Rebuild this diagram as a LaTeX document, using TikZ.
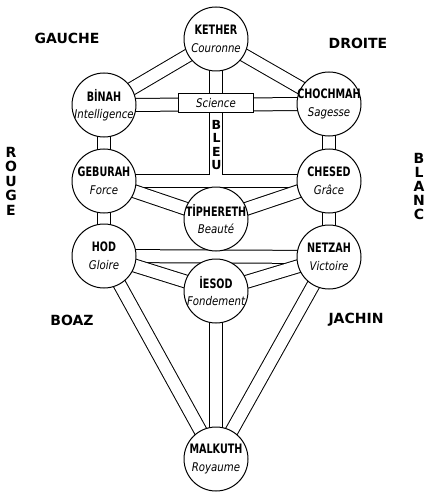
\documentclass[tikz,border=0pt]{standalone}
\usepackage{fontspec}
\usepackage{graphicx}
\usetikzlibrary{backgrounds}
\newfontfamily\lettrage{DejaVu Sans}
% noms des sefirot et vertus
\newcommand{\nom}[1]{\makebox[0pt]{\scalebox{0.74}[1]{\fontsize{13}{13}\selectfont\lettrage\bfseries #1}}}
\newcommand{\vertu}[1]{\makebox[0pt]{\scalebox{0.85}[1]{\fontsize{12}{12}\selectfont\lettrage\itshape #1}}}

\begin{document}
\begin{tikzpicture}[x=1pt,y=-1pt,line width=1pt,
  sefira/.style={circle,draw,fill=white,minimum size=64pt,inner sep=0pt,align=center,font=\fontsize{10}{17.5}\selectfont},
  canal/.style={draw=black,double=white,double distance=12pt,line width=1pt},
  titre/.style={font=\fontsize{14}{15}\selectfont\lettrage\bfseries,inner sep=0pt,align=center}]
  \useasboundingbox (0,0) rectangle (427,492);
  % les dix sefirot
  \node[sefira] (kether)    at (216,39)  {\nom{KETHER}\\\vertu{Couronne}};
  \node[sefira] (binah)     at (104,105) {\nom{BİNAH}\\\vertu{Intelligence}};
  \node[sefira] (chochmah)  at (329,104) {\nom{CHOCHMAH}\\\vertu{Sagesse}};
  \node[sefira] (geburah)   at (104,181) {\nom{GEBURAH}\\\vertu{Force}};
  \node[sefira] (chesed)    at (329,181) {\nom{CHESED}\\\vertu{Grâce}};
  \node[sefira] (tiphereth) at (216,219) {\nom{TİPHERETH}\\\vertu{Beauté}};
  \node[sefira] (hod)       at (104,256) {\nom{HOD}\\\vertu{Gloire}};
  \node[sefira] (netzah)    at (329,257) {\nom{NETZAH}\\\vertu{Victoire}};
  \node[sefira] (iesod)     at (216,291) {\nom{İESOD}\\\vertu{Fondement}};
  \node[sefira] (malkuth)   at (216,459) {\nom{MALKUTH}\\\vertu{Royaume}};
  % croix centrale
  \node[draw,fill=white,minimum width=75pt,minimum height=19pt,inner sep=0pt] (science) at (216,103) {\vertu{Science}};
  \node[inner sep=0pt,align=center,font=\fontsize{12.5}{13.5}\selectfont\lettrage\bfseries] (bleu) at (216.5,145) {B\\L\\E\\U};
  \coordinate (pied) at (216,175.1);
  % canaux (derriere les cercles)
  \begin{scope}[on background layer]
    \draw[canal] (binah.center)--(geburah.center);
    \draw[canal] (geburah.center)--(hod.center);
    \draw[canal] (chochmah.center)--(chesed.center);
    \draw[canal] (chesed.center)--(netzah.center);
    \draw[canal] (binah.center)--(chochmah.center);
    \draw[canal] (geburah.center)--(chesed.center);
    \draw[canal] (hod.center)--(netzah.center);
    \draw[canal] (kether.center)--(binah.center);
    \draw[canal] (kether.center)--(chochmah.center);
    \draw[canal] (geburah.center)--(tiphereth.center);
    \draw[canal] (chesed.center)--(tiphereth.center);
    \draw[canal] (hod.center)--(iesod.center);
    \draw[canal] (netzah.center)--(iesod.center);
    \draw[canal] (hod.center)--(malkuth.center);
    \draw[canal] (netzah.center)--(malkuth.center);
    \draw[canal] (iesod.center)--(malkuth.center);
    \draw[canal] (kether.center)--(pied);
  \end{scope}
  % colonnes et cotes
  \node[titre] (gauche) at (67,38)  {GAUCHE};
  \node[titre] (droite) at (358,43) {DROITE};
  \node[titre] (boaz)   at (72,320) {BOAZ};
  \node[titre] (jachin) at (356,320){JACHIN};
  \node[titre,font=\fontsize{14}{14.5}\selectfont\lettrage\bfseries] (rouge) at (11,181)  {R\\O\\U\\G\\E};
  \node[titre,font=\fontsize{14}{14}\selectfont\lettrage\bfseries] (blanc) at (419,186) {B\\L\\A\\N\\C};
\end{tikzpicture}
\end{document}
